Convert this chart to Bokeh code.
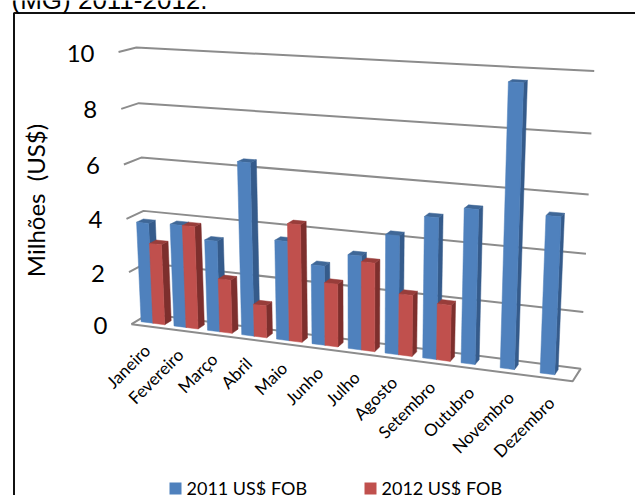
import numpy as np
from bokeh.core.properties import value
from bokeh.embed import file_html
from bokeh.models import ColumnDataSource, Range1d
from bokeh.plotting import figure
from bokeh.resources import INLINE

MESES = ["Janeiro", "Fevereiro", "Março", "Abril", "Maio", "Junho", "Julho",
         "Agosto", "Setembro", "Outubro", "Novembro", "Dezembro"]
FOB_2011 = [3.8, 3.85, 3.4, 6.35, 3.65, 2.9, 3.4, 4.25, 5.0, 5.4, 9.65, 5.4]
FOB_2012 = [3.05, 3.85, 2.0, 1.2, 4.3, 2.3, 3.2, 2.2, 2.0, None, None, None]
TICKS_Y = [0, 2, 4, 6, 8, 10]
SERIES_2011 = "2011 US$ FOB"
SERIES_2012 = "2012 US$ FOB"
EIXO_Y = "Milhões\u00a0 (US$)"
LEGENDA_TOPO = "(MG) 2011-2012."

W, H = 635, 495
FONT = "Lato"
N = len(MESES)
Z0, Z1 = 0.3, 0.7

# Camera calibration: (category position, axis value, depth) -> page position.
# Depth 0 is the front edge of the floor, depth 1 is the back wall.
CALIB = [
    ((0, 0, 1), (148, 316)), ((12, 0, 1), (580, 367)),
    ((0, 10, 1), (136, 47)), ((12, 10, 1), (594, 71)),
    ((0, 0, 0), (131, 323)), ((12, 0, 0), (572, 382)),
    ((0, 10, 0), (118, 52)),
    ((0, 4, 1), (143, 210)), ((12, 4, 1), (585, 253)),
    ((0, 8, 1), (138, 102)), ((12, 8, 1), (591, 133)),
    ((0.5, 0, Z0), (152.7, 321.5)), ((3.5, 0, Z0), (253, 335.5)),
    ((6.5, 0, Z0), (360.7, 349.5)), ((8.5, 0, Z0), (436, 359.5)),
    ((11.5, 0, Z0), (555, 374)),
]


def solve_camera(points):
    rows, rhs = [], []
    for (x, y, z), (u, v) in points:
        rows.append([x, y, z, 1, 0, 0, 0, 0, -u * x, -u * y, -u * z])
        rhs.append(u)
        rows.append([0, 0, 0, 0, x, y, z, 1, -v * x, -v * y, -v * z])
        rhs.append(v)
    m = np.linalg.lstsq(np.array(rows, float), np.array(rhs, float), rcond=None)[0]
    return np.append(m, 1.0).reshape(3, 4)


CAM = solve_camera(CALIB)


def project(x, y, z):
    px, py, pw = CAM @ np.array([x, y, z, 1.0])
    return px / pw, py / pw


def face(corners):
    pts = [project(*c) for c in corners]
    return [p[0] for p in pts], [p[1] for p in pts]


p = figure(width=W, height=H, output_backend="svg", toolbar_location=None,
           x_range=Range1d(0, W), y_range=Range1d(H, 0), min_border=0,
           outline_line_color=None, background_fill_color="white")
p.axis.visible = False
p.grid.visible = False

# Frame of the page box, open on the right and at the bottom
p.line([13.5, 13.5, W], [H, 12.5, 12.5], line_color="#111111", line_width=2)

# Floor
fx, fy = face([(0, 0, 0), (12, 0, 0), (12, 0, 1), (0, 0, 1)])
p.patch(fx + fx[:1], fy + fy[:1], fill_color="white", line_color="#8c8c8c", line_width=2)

# Gridlines on the side and back walls
for t in TICKS_Y[1:]:
    gx, gy = face([(0, t, 0), (0, t, 1), (12, t, 1)])
    p.line(gx, gy, line_color="#8c8c8c", line_width=2)

# Bars as three visible faces, painted from left to right
BAR_W = 0.36
BLUE = ("#4f81bd", "#355b8b", "#3f6797")
RED = ("#c0504d", "#7d2f2d", "#983d3a")

xs, ys, colors = [], [], []


def add_bar(x0, x1, v, palette):
    front = [(x0, 0, Z0), (x1, 0, Z0), (x1, v, Z0), (x0, v, Z0)]
    side = [(x1, 0, Z0), (x1, 0, Z1), (x1, v, Z1), (x1, v, Z0)]
    top = [(x0, v, Z0), (x1, v, Z0), (x1, v, Z1), (x0, v, Z1)]
    for corners, color in ((side, palette[1]), (top, palette[2]), (front, palette[0])):
        fxs, fys = face(corners)
        xs.append(fxs)
        ys.append(fys)
        colors.append(color)


for i in range(N):
    c = i + 0.5
    add_bar(c - BAR_W, c, FOB_2011[i], BLUE)
    if FOB_2012[i] is not None:
        add_bar(c, c + BAR_W, FOB_2012[i], RED)

p.patches("xs", "ys", fill_color="colors", line_color="colors", line_width=0.5,
          source=ColumnDataSource(dict(xs=xs, ys=ys, colors=colors)))

# Value axis labels
tick_pos = [project(0, t, 0) for t in TICKS_Y]
p.text([q[0] - 24 for q in tick_pos], [q[1] + 1 for q in tick_pos], text=[str(t) for t in TICKS_Y],
       text_font=value(FONT), text_font_size="24px", text_color="#000000",
       text_align="right", text_baseline="middle")

# Month labels, following the front edge of the floor
month_pos = [project(i + 0.5, 0, 0) for i in range(N)]
p.text([q[0] - 1 for q in month_pos], [q[1] + 21 for q in month_pos], text=MESES,
       text_font=value(FONT), text_font_size="17px", text_color="#000000",
       text_align="right", text_baseline="middle", angle=45, angle_units="deg")

# Value axis title
p.text([35], [200], text=[EIXO_Y], text_font=value(FONT), text_font_size="24px",
       text_color="#000000", text_align="center", text_baseline="middle",
       angle=90, angle_units="deg")

# Legend
for sx, label, color in ((169, SERIES_2011, BLUE[0]), (364, SERIES_2012, RED[0])):
    p.quad(left=[sx], right=[sx + 12], top=[482], bottom=[494], fill_color=color, line_color=None)
    p.text([sx + 17], [487], text=[label], text_font=value(FONT), text_font_size="18px",
           text_color="#000000", text_align="left", text_baseline="middle")

# Tail of the caption that sits above the box
p.text([11], [-1], text=[LEGENDA_TOPO], text_font=value("Liberation Sans"), text_font_size="26px",
       text_color="#000000", text_align="left", text_baseline="alphabetic")

open("out.html", "w").write(file_html(p, INLINE))
